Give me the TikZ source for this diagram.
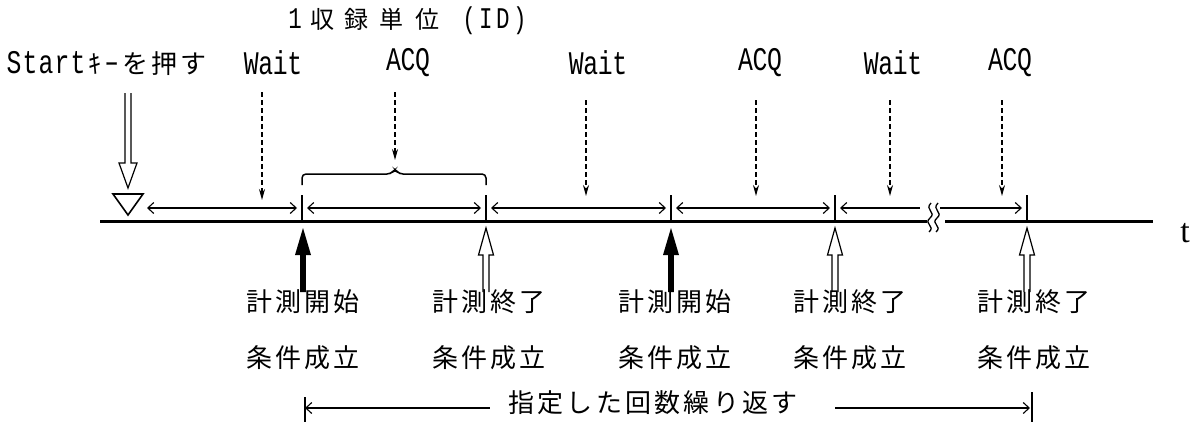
\documentclass[tikz,border=0pt]{standalone}
\usepackage{fontspec}
\newfontfamily\cjk{Noto Sans CJK JP}
\newfontfamily\lat[FakeStretch=0.75]{Liberation Mono}
\newfontfamily\tser{Liberation Serif}
\usetikzlibrary{arrows.meta}
\makeatletter
\def\chs#1{\def\chs@w{#1}\chs@x}
\def\chs@x#1{\ifx\relax#1\else\makebox[\chs@w][c]{#1}\expandafter\chs@x\fi}
\makeatother
\tikzset{
  txt/.style={inner sep=0pt, outer sep=0pt},
  jl/.style={txt, font=\cjk\fontsize{26}{26}\selectfont},
  ll/.style={txt, font=\lat\fontsize{33}{33}\selectfont},
  dasharr/.style={line width=1.4pt, dash pattern=on 5pt off 3pt, -{Stealth[length=11pt,width=6pt]}},
  spanarr/.style={line width=1.1pt, {Straight Barb[length=6pt,width=11pt]}-{Straight Barb[length=6pt,width=11pt]}},
  rarr/.style={line width=1.1pt, -{Straight Barb[length=6pt,width=11pt]}},
  larr/.style={line width=1.1pt, {Straight Barb[length=6pt,width=11pt]}-},
  tickmark/.style={line width=1.5pt},
  axis/.style={line width=3pt},
  hup/.pic={\draw[line width=1.2pt, fill=white] (-3,0) -- (-3,-37) -- (-7.5,-37) -- (0,-64) -- (7.5,-37) -- (3,-37) -- (3,0);},
  fup/.pic={\fill[black] (-2.8,0) -- (-2.8,-37) -- (-8,-37) -- (0,-64) -- (8,-37) -- (2.8,-37) -- (2.8,0) -- cycle;},
  hdown/.pic={\draw[line width=1.2pt, fill=white] (-3,0) -- (-3,70) -- (-9,70) -- (0,95) -- (9,70) -- (3,70) -- (3,0);}
}
\begin{document}
\begin{tikzpicture}[x=1pt,y=-1pt]
\useasboundingbox (0,0) rectangle (1197,423);
% top labels
\node[txt, anchor=west, font=\lat\fontsize{30}{30}\selectfont] (unit) at (286.5,21)
  {\chs{17pt}1\relax\hspace{1pt}{\cjk\fontsize{24}{24}\selectfont\chs{35pt}収録単位\relax}\hspace{16pt}\chs{17pt}(ID)\relax};
\node[ll, anchor=west] (start) at (6,63)
  {\chs{16pt}Start\relax{\cjk\fontsize{26}{26}\selectfont\chs{17.5pt}ｷｰ\relax\chs{29pt}を押す\relax}};
\node[ll] (w1) at (273,63) {\chs{14.5pt}Wait\relax};
\node[ll] (a1) at (408,63) {\chs{14.5pt}ACQ\relax};
\node[ll] (w2) at (598,63) {\chs{14.5pt}Wait\relax};
\node[ll] (a2) at (760,63) {\chs{14.5pt}ACQ\relax};
\node[ll] (w3) at (893,63) {\chs{14.5pt}Wait\relax};
\node[ll] (a3) at (1010,63) {\chs{14.5pt}ACQ\relax};
% dashed arrows
\coordinate (w1s) at (262,92);  \coordinate (w1e) at (262,200);
\coordinate (a1s) at (395,92);  \coordinate (a1e) at (395,160);
\coordinate (w2s) at (586,100); \coordinate (w2e) at (586,196);
\coordinate (a2s) at (756,100); \coordinate (a2e) at (756,196);
\coordinate (w3s) at (890,100); \coordinate (w3e) at (890,196);
\coordinate (a3s) at (1002,100); \coordinate (a3e) at (1002,196);
\foreach \n in {w1,a1,w2,a2,w3,a3} \draw[dasharr] (\n s) -- (\n e);
% start arrow and triangle
\pic at (128,93) {hdown};
\draw[line width=1.6pt, line join=miter] (113,194) -- (143,194) -- (128,215) -- cycle;
% axis
\coordinate (ax0) at (100,221); \coordinate (axb1) at (927,221);
\coordinate (axb2) at (945,221); \coordinate (ax1) at (1153,221);
\draw[axis] (ax0) -- (axb1);
\draw[axis] (axb2) -- (ax1);
\node[txt, anchor=base, font=\tser\fontsize{34}{34}\selectfont] (tlab) at (1185,242) {t};
% ticks
\foreach \x [count=\i] in {302,486,671,835,1027} {
  \coordinate (k\i) at (\x,208);
  \draw[tickmark] (\x,195) -- (\x,222);
}
% span arrows
\draw[spanarr] (147,208) -- ([xshift=-5pt]k1);
\draw[spanarr] ([xshift=5pt]k1) -- ([xshift=-5pt]k2);
\draw[spanarr] ([xshift=5pt]k2) -- ([xshift=-5pt]k3);
\draw[spanarr] ([xshift=5pt]k3) -- ([xshift=-5pt]k4);
\coordinate (sb1) at (920,208); \coordinate (sb2) at (940,208);
\draw[larr] ([xshift=5pt]k4) -- (sb1);
\draw[rarr] (sb2) -- ([xshift=-5pt]k5);
% break marks
\draw[line width=1.3pt] (931,203) .. controls (924,210) and (937,212) .. (930,218) .. controls (923,224) and (936,226) .. (929,232);
\draw[line width=1.3pt] (938,203) .. controls (931,210) and (944,212) .. (937,218) .. controls (930,224) and (943,226) .. (936,232);
% brace
\draw[line width=1.5pt, rounded corners=4pt] (302,185) -- (302,174) -- (391,174) -- (395,169) -- (399,174) -- (486,174) -- (486,185);
% up arrows
\pic at (303,292) {fup};
\pic at (486,292) {hup};
\pic at (671,292) {fup};
\pic at (835,292) {hup};
\pic at (1027,292) {hup};
% bottom labels
\node[jl] (s1a) at (303,302) {\chs{29pt}計測開始\relax};
\node[jl] (s1b) at (303,358) {\chs{29pt}条件成立\relax};
\node[jl] (e1a) at (489,302) {\chs{29pt}計測終了\relax};
\node[jl] (e1b) at (489,358) {\chs{29pt}条件成立\relax};
\node[jl] (s2a) at (675,302) {\chs{29pt}計測開始\relax};
\node[jl] (s2b) at (675,358) {\chs{29pt}条件成立\relax};
\node[jl] (e2a) at (850,302) {\chs{29pt}計測終了\relax};
\node[jl] (e2b) at (850,358) {\chs{29pt}条件成立\relax};
\node[jl] (e3a) at (1034,302) {\chs{29pt}計測終了\relax};
\node[jl] (e3b) at (1034,358) {\chs{29pt}条件成立\relax};
% repeat arrow
\node[jl] (rep) at (653,403) {\chs{29.3pt}指定した回数繰り返す\relax};
\coordinate (bl) at (305,408); \coordinate (bla) at (490,408);
\coordinate (bra) at (835,408); \coordinate (br) at (1030,408);
\draw[larr] (bl) -- (bla);
\draw[rarr] (bra) -- (br);
\draw[line width=1.5pt] (305,397) -- (305,422);
\draw[line width=1.5pt] (1032,392) -- (1032,422);
\end{tikzpicture}
\end{document}
